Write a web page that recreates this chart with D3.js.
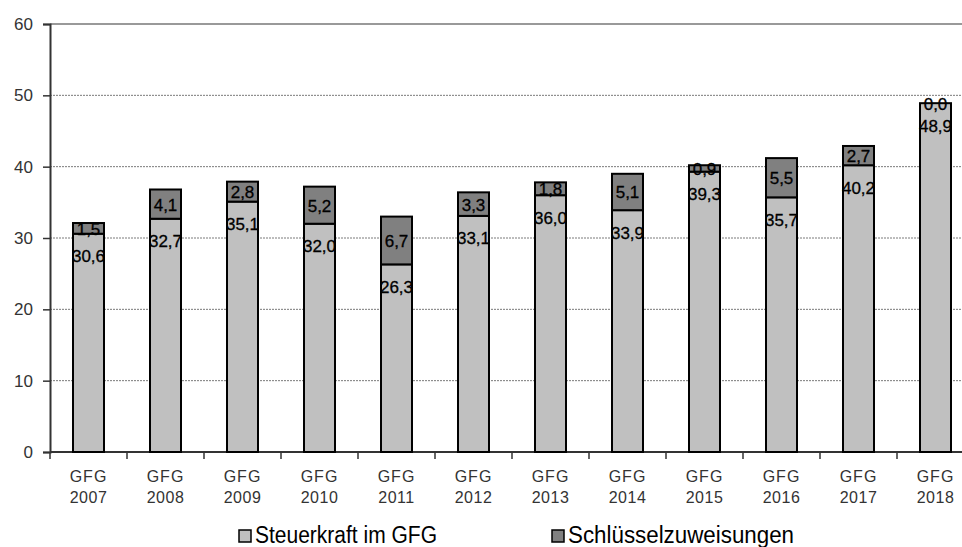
<!DOCTYPE html>
<html><head><meta charset="utf-8">
<script src="https://cdn.jsdelivr.net/npm/d3@7"></script>
<style>html,body{margin:0;padding:0;background:#fff;overflow:hidden}</style>
</head><body>
<svg id="c" width="962" height="547"></svg>
<script>
const years = ["2007","2008","2009","2010","2011","2012","2013","2014","2015","2016","2017","2018"];
const steuerkraft = [30.6,32.7,35.1,32.0,26.3,33.1,36.0,33.9,39.3,35.7,40.2,48.9];
const schluessel = [1.5,4.1,2.8,5.2,6.7,3.3,1.8,5.1,0.9,5.5,2.7,0.0];
const yTicks = [0,10,20,30,40,50,60];
const seriesNames = ["Steuerkraft im GFG","Schlüsselzuweisungen"];
const colors = ["#c0c0c0","#808080"];

const svg = d3.select("#c");
const fmt = v => v.toFixed(1).replace(".", ",");
const mLeft = 50, mTop = 24, mBottom = 452, band = 77;
const x = d3.scaleBand().domain(years).range([mLeft, mLeft + band*years.length]).padding(0);
const y = d3.scaleLinear().domain([0,60]).range([mBottom, mTop]);
const barW = 31;
const FONT = "Liberation Sans, Arial, sans-serif";

// gridlines
svg.append("g").selectAll("line").data(yTicks.filter(t=>t>0 && t<60)).join("line")
  .attr("x1", mLeft).attr("x2", x.range()[1]).attr("y1", d=>y(d)).attr("y2", d=>y(d))
  .attr("stroke","#7a7a7a").attr("stroke-width",1).attr("stroke-dasharray","2,1");
// top border
svg.append("line").attr("x1",mLeft).attr("x2",x.range()[1]).attr("y1",y(60)).attr("y2",y(60))
  .attr("stroke","#999").attr("stroke-width",2);

// y axis
const yAx = svg.append("g").attr("transform",`translate(${mLeft},0)`)
  .call(d3.axisLeft(y).tickValues(yTicks).tickSize(7).tickPadding(10).tickFormat(d=>d));
yAx.select(".domain").attr("stroke","#333").attr("stroke-width",2);
yAx.selectAll(".tick line").attr("stroke","#333").attr("stroke-width",1.5);
yAx.selectAll("text").attr("font-family",FONT).attr("font-size",17).attr("fill","#333");

// x axis
const xAx = svg.append("g").attr("transform",`translate(0,${mBottom})`);
xAx.append("line").attr("x1",mLeft).attr("x2",x.range()[1]).attr("stroke","#333").attr("stroke-width",2);
xAx.selectAll("line.tk").data(years).join("line").attr("class","tk")
  .attr("x1",d=>x(d)).attr("x2",d=>x(d)).attr("y1",0).attr("y2",7)
  .attr("stroke","#333").attr("stroke-width",1.5);
const xl = xAx.selectAll("text").data(years).join("text")
  .attr("x",d=>x(d)+band/2).attr("text-anchor","middle")
  .attr("font-family",FONT).attr("font-size",16).attr("fill","#333");
xl.append("tspan").attr("x",d=>x(d)+band/2).attr("y",30).attr("letter-spacing",1).text("GFG");
xl.append("tspan").attr("x",d=>x(d)+band/2).attr("y",51).attr("letter-spacing",0.5).text(d=>d);

// bars
const g = svg.append("g");
years.forEach((yr,i)=>{
  const cx = x(yr) + band/2;
  const a = steuerkraft[i], b = schluessel[i];
  g.append("rect").attr("x",cx-barW/2).attr("y",y(a)).attr("width",barW).attr("height",y(0)-y(a))
    .attr("fill",colors[0]).attr("stroke","#000").attr("stroke-width",2);
  g.append("rect").attr("x",cx-barW/2).attr("y",y(a+b)).attr("width",barW).attr("height",y(a)-y(a+b))
    .attr("fill",colors[1]).attr("stroke","#000").attr("stroke-width",2);
});
const lab = svg.append("g").attr("font-family",FONT).attr("font-size",17)
  .attr("fill","#000").attr("stroke","#000").attr("stroke-width",0.3)
  .attr("text-anchor","middle").attr("dominant-baseline","central");
years.forEach((yr,i)=>{
  const cx = x(yr) + band/2;
  const a = steuerkraft[i], b = schluessel[i];
  lab.append("text").attr("x",cx).attr("y",y(a)+23).text(fmt(a));
  lab.append("text").attr("x",cx).attr("y",(y(a)+y(a+b))/2+1).text(fmt(b));
});

// legend
const leg = svg.append("g").attr("font-family",FONT).attr("font-size",23).attr("fill","#000");
const legX = [239, 552];
const legW = [182, 226];
seriesNames.forEach((n,i)=>{
  leg.append("rect").attr("x",legX[i]).attr("y",530).attr("width",12).attr("height",12)
    .attr("fill",colors[i]).attr("stroke","#000").attr("stroke-width",1.5);
  leg.append("text").attr("x",legX[i]+16).attr("y",543).attr("textLength", legW[i])
    .attr("lengthAdjust","spacingAndGlyphs").text(n);
});
</script>
</body></html>
